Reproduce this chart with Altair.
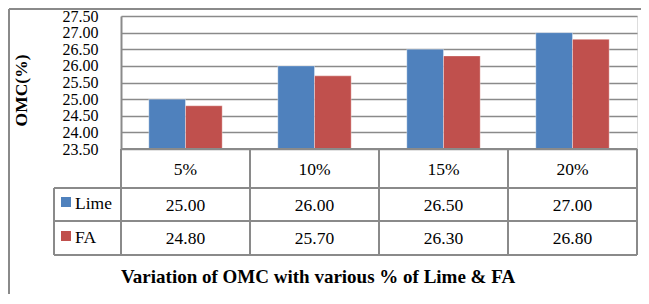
import altair as alt
import pandas as pd

# ---- data ----
categories = ["5%", "10%", "15%", "20%"]
series_names = ["Lime", "FA"]
lime_values = [25.00, 26.00, 26.50, 27.00]
fa_values = [24.80, 25.70, 26.30, 26.80]
series_colors = ["#4F81BD", "#C0504D"]
y_tick_values = [23.5, 24.0, 24.5, 25.0, 25.5, 26.0, 26.5, 27.0, 27.5]
y_min, y_max = 23.5, 27.5
y_title = "OMC(%)"
chart_title = "Variation of OMC with various % of Lime & FA"

rows = []
for s, vals in zip(series_names, [lime_values, fa_values]):
    for c, v in zip(categories, vals):
        rows.append({"cat": c, "series": s, "value": v})
df = pd.DataFrame(rows)
cat_df = pd.DataFrame({"cat": categories})
ser_df = pd.DataFrame({"series": series_names})

W, H = 516, 133
FONT = "'Liberation Serif', 'Times New Roman', 'DejaVu Serif', serif"
FS = 17.5
GRAY = "#8a8a8a"

xscale = alt.Scale(domain=categories, paddingInner=0, paddingOuter=0)
yscale = alt.Scale(domain=[y_min, y_max], zero=False, nice=False)
cscale = alt.Scale(domain=series_names, range=series_colors)

base = alt.Chart(df)

bars = base.mark_bar(stroke="#ffffff", strokeWidth=0.6, strokeOpacity=0.6).encode(
    x=alt.X("cat:N", scale=xscale, sort=categories, axis=None),
    xOffset=alt.XOffset("series:N", scale=alt.Scale(domain=series_names, paddingOuter=0.758, paddingInner=0), sort=series_names),
    y=alt.Y("value:Q", scale=yscale,
            axis=alt.Axis(values=y_tick_values, format=".2f", labelFont=FONT, labelFontSize=16,
                          labelColor="black", labelPadding=23, ticks=False, labelOverlap=False,
                          labelFlush=False, labelBound=False,
                          domainColor=GRAY, domainWidth=2, gridColor=GRAY, gridWidth=1.5,
                          title=y_title, titleFont=FONT, titleFontSize=FS, titleFontWeight="bold",
                          titleColor="black", titleAngle=-90, titleX=-100, titleY=74,
                          titleAlign="center", titleBaseline="middle")),
    y2=alt.datum(y_min),
    color=alt.Color("series:N", scale=cscale, legend=None),
)

# table grid: vertical lines at category band edges
vlines = alt.Chart(cat_df).mark_rule(color=GRAY, strokeWidth=2).encode(
    x=alt.X("cat:N", scale=xscale, sort=categories, bandPosition=0),
    y=alt.value(133), y2=alt.value(239),
)
edge_lines = alt.Chart(cat_df.head(1)).mark_rule(color=GRAY, strokeWidth=2)
right_line = edge_lines.encode(x=alt.value(W), y=alt.value(133), y2=alt.value(239))
left_col_line = edge_lines.encode(x=alt.value(-67), y=alt.value(172), y2=alt.value(239))
hl_axis = edge_lines.encode(x=alt.value(0), x2=alt.value(W), y=alt.value(133))
hl1 = edge_lines.encode(x=alt.value(-67), x2=alt.value(W), y=alt.value(172))
hl2 = edge_lines.encode(x=alt.value(-67), x2=alt.value(W), y=alt.value(205))
hl3 = edge_lines.encode(x=alt.value(-67), x2=alt.value(W), y=alt.value(239))

# outer border (left and top visible)
border_left = edge_lines.encode(x=alt.value(-112), y=alt.value(-7), y2=alt.value(290))
border_top = edge_lines.encode(x=alt.value(-112), x2=alt.value(W + 10), y=alt.value(-7))

txt = dict(font=FONT, fontSize=FS, color="black", baseline="middle")

cat_text = alt.Chart(cat_df).mark_text(**txt).encode(
    x=alt.X("cat:N", scale=xscale, sort=categories), y=alt.value(154), text="cat:N"
)
lime_text = base.transform_filter(alt.datum.series == "Lime").mark_text(**txt).encode(
    x=alt.X("cat:N", scale=xscale, sort=categories), y=alt.value(189.5),
    text=alt.Text("value:Q", format=".2f"),
)
fa_text = base.transform_filter(alt.datum.series == "FA").mark_text(**txt).encode(
    x=alt.X("cat:N", scale=xscale, sort=categories), y=alt.value(223),
    text=alt.Text("value:Q", format=".2f"),
)

ser_base = alt.Chart(ser_df)
lime_sw = ser_base.transform_filter(alt.datum.series == "Lime").mark_square(size=100, opacity=1).encode(
    x=alt.value(-55), y=alt.value(186), color=alt.Color("series:N", scale=cscale, legend=None))
fa_sw = ser_base.transform_filter(alt.datum.series == "FA").mark_square(size=100, opacity=1).encode(
    x=alt.value(-55), y=alt.value(220), color=alt.Color("series:N", scale=cscale, legend=None))
lime_lab = ser_base.transform_filter(alt.datum.series == "Lime").mark_text(align="left", **txt).encode(
    x=alt.value(-46), y=alt.value(187.5), text="series:N")
fa_lab = ser_base.transform_filter(alt.datum.series == "FA").mark_text(align="left", **txt).encode(
    x=alt.value(-46), y=alt.value(221.5), text="series:N")

title_mark = alt.Chart(pd.DataFrame({"t": [chart_title]})).mark_text(
    font=FONT, fontSize=19, fontWeight="bold", color="black", baseline="middle", align="center"
).encode(x=alt.value(197), y=alt.value(261), text="t:N")

chart = alt.layer(
    bars, vlines, right_line, left_col_line, hl_axis, hl1, hl2, hl3,
    border_left, border_top,
    cat_text, lime_text, fa_text, lime_sw, fa_sw, lime_lab, fa_lab, title_mark,
).properties(
    width=W, height=H,
    autosize=alt.AutoSizeParams(type="none"),
    padding={"left": 113, "top": 8, "right": 4, "bottom": 145},
).configure_view(stroke=None).configure(background="white")

chart.save("out.html", embed_options={"renderer": "svg", "actions": False})
